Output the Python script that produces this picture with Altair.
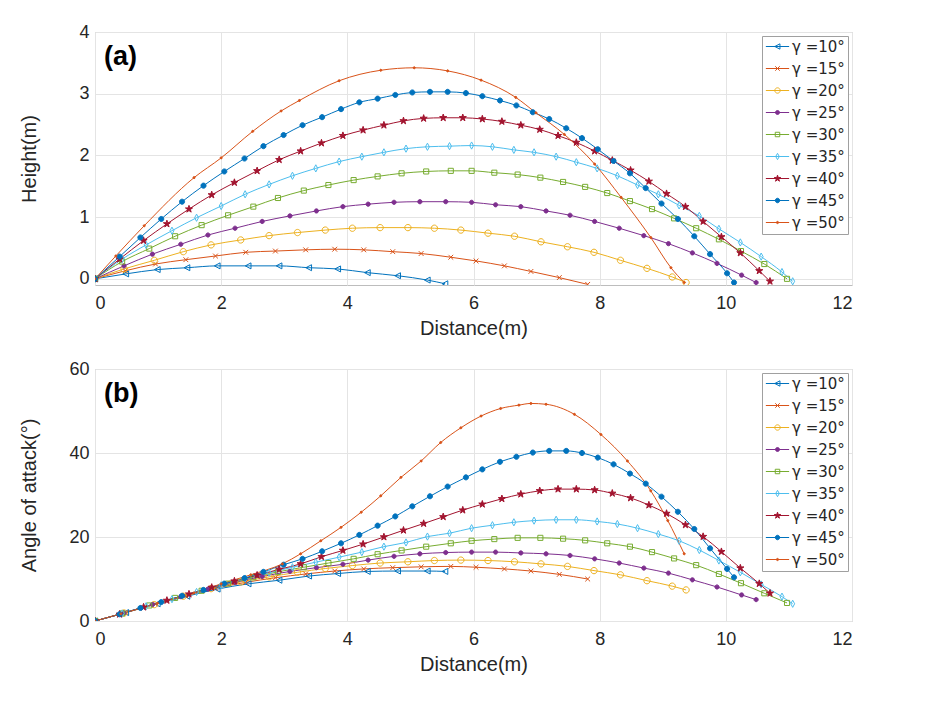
import altair as alt
import pandas as pd

gammas = [10, 15, 20, 25, 30, 35, 40, 45, 50]
labels = ["γ =%d°" % g for g in gammas]
colors = ["#0072BD", "#D95319", "#EDB120", "#7E2F8E", "#77AC30",
          "#4DBEEE", "#A2142F", "#0072BD", "#D95319"]

# ---- distance samples (m), height (m) and angle of attack (deg) ----
x_g10 = [0, 0.49, 0.99, 1.46, 1.94, 2.43, 2.92, 3.39, 3.85, 4.32, 4.8, 5.27, 5.55]
h_g10 = [0, 0.08, 0.15, 0.18, 0.21, 0.21, 0.21, 0.18, 0.16, 0.1, 0.05, -0.02, -0.08]
a_g10 = [0, 2.0, 4.1, 5.9, 7.6, 8.85, 9.7, 10.7, 11.3, 11.8, 11.9, 11.9, 11.8]

x_g15 = [0, 0.48, 0.96, 1.44, 1.91, 2.39, 2.86, 3.34, 3.8, 4.26, 4.72, 5.17, 5.64, 6.04, 6.49, 6.91, 7.36, 7.81]
h_g15 = [0, 0.13, 0.24, 0.31, 0.37, 0.43, 0.45, 0.47, 0.48, 0.47, 0.44, 0.41, 0.35, 0.29, 0.21, 0.12, 0.02, -0.09]
a_g15 = [0, 2.0, 4.0, 6.0, 7.8, 9.2, 10.3, 11.2, 11.9, 12.4, 12.7, 12.9, 13.0, 12.8, 12.4, 11.9, 11.1, 10.0]

x_g20 = [0, 0.46, 0.94, 1.4, 1.84, 2.31, 2.76, 3.21, 3.65, 4.08, 4.52, 4.96, 5.38, 5.8, 6.23, 6.65, 7.07, 7.49, 7.91, 8.33, 8.75, 9.15, 9.37]
h_g20 = [0, 0.16, 0.3, 0.44, 0.55, 0.63, 0.7, 0.75, 0.79, 0.82, 0.83, 0.83, 0.82, 0.79, 0.74, 0.69, 0.6, 0.52, 0.43, 0.3, 0.17, 0.03, -0.06]
a_g20 = [0, 1.9, 3.9, 5.9, 7.7, 9.3, 10.5, 11.6, 12.5, 13.2, 13.8, 14.1, 14.4, 14.5, 14.4, 14.1, 13.6, 13.0, 12.0, 11.0, 9.6, 8.3, 7.4]

x_g25 = [0, 0.46, 0.91, 1.36, 1.79, 2.22, 2.65, 3.09, 3.51, 3.93, 4.33, 4.74, 5.15, 5.56, 5.97, 6.35, 6.75, 7.15, 7.53, 7.92, 8.31, 8.7, 9.09, 9.47, 9.86, 10.25, 10.48]
h_g25 = [0, 0.21, 0.4, 0.56, 0.71, 0.82, 0.93, 1.02, 1.1, 1.17, 1.21, 1.24, 1.25, 1.25, 1.24, 1.2, 1.17, 1.1, 1.03, 0.93, 0.82, 0.7, 0.57, 0.42, 0.25, 0.06, -0.06]
a_g25 = [0, 1.9, 3.9, 5.8, 7.6, 9.2, 10.6, 11.8, 12.7, 13.5, 14.5, 15.4, 16.0, 16.3, 16.4, 16.4, 16.2, 16.0, 15.6, 14.8, 13.8, 12.6, 11.4, 9.8, 8.1, 6.2, 5.1]

x_g30 = [0, 0.43, 0.86, 1.27, 1.69, 2.11, 2.51, 2.9, 3.31, 3.7, 4.1, 4.48, 4.86, 5.25, 5.64, 5.97, 6.33, 6.7, 7.06, 7.42, 7.77, 8.12, 8.48, 8.83, 9.18, 9.53, 9.89, 10.24, 10.61, 10.97]
h_g30 = [0, 0.28, 0.49, 0.69, 0.87, 1.03, 1.17, 1.31, 1.43, 1.52, 1.6, 1.66, 1.71, 1.74, 1.75, 1.75, 1.72, 1.69, 1.64, 1.57, 1.49, 1.39, 1.26, 1.13, 0.98, 0.82, 0.64, 0.45, 0.24, 0.0]
a_g30 = [0, 1.8, 3.7, 5.5, 7.2, 8.9, 10.4, 11.7, 12.8, 13.8, 14.8, 15.9, 16.8, 17.7, 18.5, 19.1, 19.5, 19.8, 19.8, 19.6, 19.2, 18.5, 17.7, 16.4, 14.9, 13.3, 11.2, 9.0, 6.6, 4.3]

x_g35 = [0, 0.43, 0.81, 1.22, 1.61, 2.0, 2.38, 2.76, 3.13, 3.5, 3.87, 4.23, 4.58, 4.93, 5.27, 5.62, 5.97, 6.3, 6.64, 6.96, 7.31, 7.63, 7.96, 8.28, 8.6, 8.93, 9.26, 9.58, 9.89, 10.23, 10.56, 10.89, 11.06]
h_g35 = [0, 0.32, 0.55, 0.78, 0.99, 1.18, 1.37, 1.53, 1.67, 1.79, 1.9, 1.98, 2.05, 2.11, 2.14, 2.15, 2.16, 2.14, 2.09, 2.05, 1.98, 1.89, 1.79, 1.67, 1.52, 1.37, 1.19, 1.02, 0.81, 0.59, 0.36, 0.11, -0.04]
a_g35 = [0, 1.8, 3.5, 5.2, 6.9, 8.5, 10.1, 11.5, 12.8, 14.0, 15.2, 16.4, 17.7, 18.7, 20.1, 20.9, 22.1, 22.8, 23.5, 23.9, 24.1, 24.1, 23.7, 23.1, 22.1, 20.7, 19.1, 16.9, 14.4, 11.6, 8.7, 5.8, 4.1]

x_g40 = [0, 0.39, 0.77, 1.14, 1.49, 1.85, 2.21, 2.57, 2.92, 3.26, 3.59, 3.93, 4.25, 4.58, 4.89, 5.21, 5.52, 5.83, 6.14, 6.45, 6.75, 7.05, 7.34, 7.63, 7.92, 8.2, 8.49, 8.78, 9.06, 9.36, 9.64, 9.93, 10.23, 10.53, 10.7]
h_g40 = [0, 0.32, 0.62, 0.89, 1.13, 1.36, 1.56, 1.75, 1.93, 2.07, 2.2, 2.32, 2.41, 2.49, 2.56, 2.6, 2.61, 2.61, 2.59, 2.55, 2.49, 2.42, 2.32, 2.21, 2.07, 1.92, 1.76, 1.58, 1.38, 1.17, 0.93, 0.68, 0.42, 0.13, -0.04]
a_g40 = [0, 1.6, 3.3, 4.9, 6.4, 8.0, 9.5, 10.9, 12.3, 13.6, 15.3, 16.8, 18.3, 20.0, 21.6, 23.2, 24.8, 26.4, 27.8, 29.1, 30.2, 31.0, 31.4, 31.4, 31.2, 30.4, 29.3, 27.6, 25.6, 22.9, 20.1, 16.5, 12.6, 8.9, 6.6]

x_g45 = [0, 0.39, 0.72, 1.05, 1.38, 1.72, 2.05, 2.37, 2.67, 2.99, 3.29, 3.6, 3.9, 4.19, 4.48, 4.76, 5.03, 5.31, 5.59, 5.88, 6.14, 6.42, 6.68, 6.94, 7.2, 7.47, 7.72, 7.97, 8.22, 8.48, 8.73, 8.98, 9.24, 9.5, 9.75, 10.02, 10.13]
h_g45 = [0, 0.36, 0.67, 0.97, 1.25, 1.51, 1.74, 1.95, 2.15, 2.33, 2.49, 2.62, 2.75, 2.86, 2.92, 2.98, 3.02, 3.03, 3.03, 3.01, 2.96, 2.89, 2.81, 2.7, 2.59, 2.44, 2.28, 2.1, 1.91, 1.71, 1.47, 1.22, 0.97, 0.69, 0.4, 0.09, -0.06]
a_g45 = [0, 1.6, 3.1, 4.5, 6.0, 7.4, 8.9, 10.2, 11.7, 13.4, 14.8, 16.6, 18.5, 20.5, 22.7, 24.9, 27.3, 29.7, 32.0, 34.2, 36.1, 37.9, 39.1, 40.1, 40.5, 40.5, 40.0, 38.9, 37.3, 35.1, 32.7, 29.6, 26.0, 21.9, 17.3, 12.4, 10.4]

x_g50a = [0, 0.33, 0.78, 1.57, 2.0, 2.5, 2.95, 3.24, 3.87, 4.53, 5.06, 5.59, 6.12, 6.67, 6.99, 7.44, 7.92, 8.34, 8.81, 9.13, 9.34]
h_g50 = [0, 0.37, 0.86, 1.64, 1.96, 2.39, 2.72, 2.89, 3.21, 3.38, 3.42, 3.37, 3.22, 2.94, 2.69, 2.34, 1.86, 1.32, 0.67, 0.18, -0.06]
x_g50b = [0, 0.41, 0.99, 1.57, 2.0, 2.47, 2.97, 3.26, 3.58, 3.9, 4.22, 4.53, 4.85, 5.17, 5.48, 5.8, 6.12, 6.43, 6.72, 6.91, 7.15, 7.6, 8.02, 8.44, 8.81, 9.08, 9.34]
a_g50 = [0, 1.7, 4.2, 6.7, 8.85, 11.0, 13.6, 16.0, 19.1, 22.3, 25.9, 29.8, 34.2, 38.1, 42.5, 46.0, 48.8, 50.6, 51.4, 51.8, 51.6, 49.2, 44.4, 38.1, 31.0, 23.9, 16.0]

series_a = [(x_g10, h_g10), (x_g15, h_g15), (x_g20, h_g20), (x_g25, h_g25), (x_g30, h_g30),
            (x_g35, h_g35), (x_g40, h_g40), (x_g45, h_g45), (x_g50a, h_g50)]
series_b = [(x_g10, a_g10), (x_g15, a_g15), (x_g20, a_g20), (x_g25, a_g25), (x_g30, a_g30),
            (x_g35, a_g35), (x_g40, a_g40), (x_g45, a_g45), (x_g50b, a_g50)]


def frame(series):
    rows = []
    for lab, (xs, ys) in zip(labels, series):
        for i, (xv, yv) in enumerate(zip(xs, ys)):
            rows.append({"g": lab, "x": xv, "y": yv, "i": i})
    return pd.DataFrame(rows)


df_a = frame(series_a)
df_b = frame(series_b)

# ---- marker styles (MATLAB-like) ----
def circ(r):
    return "M%g,0A%g,%g 0 1,1 %g,0A%g,%g 0 1,1 %g,0Z" % (r, r, r, -r, r, r, r)


marker_paths = [
    "M-1,0L0.9,-1L0.9,1Z",                       # <
    "M-0.8,-0.8L0.8,0.8M-0.8,0.8L0.8,-0.8",      # x
    circ(1.05),                                   # o
    circ(0.7),                                    # .
    "M-0.85,-0.85H0.85V0.85H-0.85Z",             # s
    "M0,-1.2L0.65,0L0,1.2L-0.65,0Z",             # d
    "M0,-1.25L0.28,-0.39L1.19,-0.39L0.45,0.15L0.73,1.01L0,0.48L-0.73,1.01L-0.45,0.15L-1.19,-0.39L-0.28,-0.39Z",  # p
    circ(0.85),                                   # o filled
    circ(0.35),                                   # tiny dot
]
legend_markers = [
    "M-0.6,0L0.55,-0.6L0.55,0.6Z",
    "M-0.5,-0.5L0.5,0.5M-0.5,0.5L0.5,-0.5",
    circ(0.6),
    circ(0.45),
    "M-0.5,-0.5H0.5V0.5H-0.5Z",
    "M0,-0.7L0.4,0L0,0.7L-0.4,0Z",
    "M0,-0.75L0.17,-0.23L0.71,-0.23L0.27,0.09L0.44,0.61L0,0.29L-0.44,0.61L-0.27,0.09L-0.71,-0.23L-0.17,-0.23Z",
    circ(0.5),
    circ(0.25),
]
legend_paths = ["M-2.6,0L2.6,0" + m for m in legend_markers]
fills = ["transparent", "transparent", "transparent", colors[3], "transparent",
         "transparent", colors[6], colors[7], colors[8]]

FONT = "Liberation Sans"
TXT = "#262626"

xscale = alt.Scale(domain=[0, 12], nice=False)


def xaxis():
    return alt.Axis(values=[0, 2, 4, 6, 8, 10, 12], title="Distance(m)", grid=True,
                    gridColor="#E4E4E4", domain=False, ticks=False, labelFontSize=18,
                    labelPadding=9, titleFontSize=20, titlePadding=6, labelColor=TXT,
                    titleColor=TXT, titleFontWeight="normal", labelFont=FONT, titleFont=FONT)


def yaxis(title, values, tpad):
    return alt.Axis(values=values, title=title, grid=True, gridColor="#E4E4E4", domain=False,
                    ticks=False, labelFontSize=18, labelPadding=6, titleFontSize=20,
                    titlePadding=tpad, labelColor=TXT, titleColor=TXT,
                    titleFontWeight="normal", labelFont=FONT, titleFont=FONT)


def panel(df, ytitle, ydomain, yvalues, tpad, tag, h):
    dom = labels
    x = alt.X("x:Q", scale=xscale, axis=xaxis())
    y = alt.Y("y:Q", scale=alt.Scale(domain=ydomain, nice=False, zero=False),
              axis=yaxis(ytitle, yvalues, tpad))
    lines = alt.Chart(df).mark_line(strokeWidth=1.0, clip=True, interpolate="monotone").encode(
        x=x, y=y,
        color=alt.Color("g:N", scale=alt.Scale(domain=dom, range=colors), legend=None),
        order="i:Q",
    )
    pts = alt.Chart(df).mark_point(clip=True, opacity=1, strokeWidth=1, size=36).encode(
        x=x, y=y,
        stroke=alt.Stroke("g:N", scale=alt.Scale(domain=dom, range=colors), legend=None),
        fill=alt.Fill("g:N", scale=alt.Scale(domain=dom, range=fills), legend=None),
        shape=alt.Shape("g:N", scale=alt.Scale(domain=dom, range=marker_paths), legend=None),
    )
    leg = alt.Legend(title=None, orient="top-right", offset=4, padding=3, fillColor="white",
                     strokeColor="#A0A0A0", symbolSize=80, symbolStrokeWidth=1,
                     symbolOffset=5, labelOffset=7, labelFontSize=15, labelFont="DejaVu Sans",
                     labelColor=TXT, rowPadding=6, labelLimit=0)
    legend_layer = alt.Chart(df).transform_filter("false").mark_point(opacity=1, strokeWidth=1).encode(
        x=x, y=y,
        stroke=alt.Stroke("g:N", scale=alt.Scale(domain=dom, range=colors), legend=leg),
        fill=alt.Fill("g:N", scale=alt.Scale(domain=dom, range=fills), legend=leg),
        shape=alt.Shape("g:N", scale=alt.Scale(domain=dom, range=legend_paths), legend=leg),
    )
    tag_text = alt.Chart(pd.DataFrame({"t": [tag]})).mark_text(
        align="left", baseline="alphabetic", fontSize=27, fontWeight="bold", font=FONT,
        color="#000000").encode(text="t:N", x=alt.value(9), y=alt.value(33))
    return alt.layer(lines, pts, legend_layer, tag_text).resolve_scale(
        shape="independent", stroke="independent", fill="independent"
    ).properties(width=757, height=h)


top = panel(df_a, "Height(m)", [-0.1, 4], [0, 1, 2, 3, 4], 39, "(a)", 253)
bottom = panel(df_b, "Angle of attack(°)", [0, 60], [0, 20, 40, 60], 29, "(b)", 252)

chart = alt.vconcat(top, bottom, spacing=20).properties(
    padding={"left": 11, "top": 14, "right": 5, "bottom": 5}
).configure_view(stroke="#BDBDBD", strokeWidth=1)

chart.save("out.html", embed_options={"renderer": "svg", "actions": False})
